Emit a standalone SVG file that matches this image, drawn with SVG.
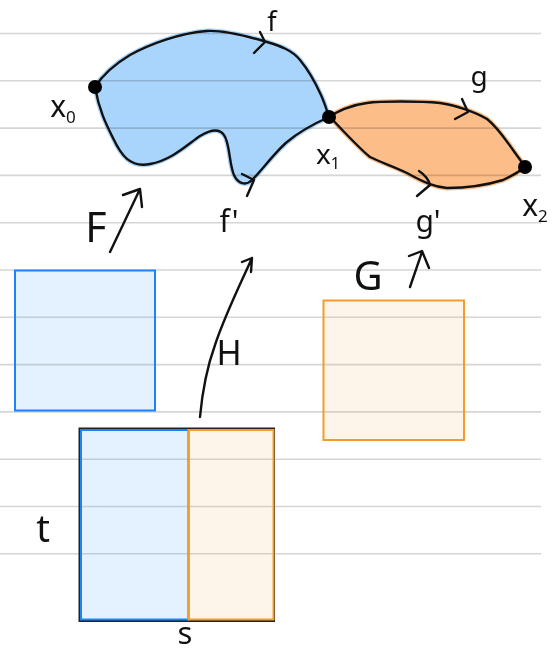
<svg xmlns="http://www.w3.org/2000/svg" width="557" height="656" viewBox="0 0 557 656">
<style>
.rule{stroke:#d6d6d6;stroke-width:1.6}
.ink{fill:none;stroke:#111;stroke-width:2.4;stroke-linecap:round;stroke-linejoin:round}
.lbl{font-family:"Noto Sans","DejaVu Sans",sans-serif;fill:#111;text-anchor:middle}
.dot{fill:#000}
.bfill{fill:#a9d4fb;stroke:#a9d4fb;stroke-width:5;stroke-linejoin:round}
.ofill{fill:#fcbd88;stroke:#fcbd88;stroke-width:5;stroke-linejoin:round}
.brect{fill:#1e88ff;fill-opacity:0.12;stroke:#1a84ff;stroke-width:2}
.orect{fill:#f5a030;fill-opacity:0.1;stroke:#f39c2b;stroke-width:2}
</style>
<rect width="557" height="656" fill="#fff"/>
<g id="rules">
<line class="rule" x1="0" y1="33.5" x2="541" y2="33.5"/>
<line class="rule" x1="0" y1="80.8" x2="541" y2="80.8"/>
<line class="rule" x1="0" y1="128.1" x2="541" y2="128.1"/>
<line class="rule" x1="0" y1="175.4" x2="541" y2="175.4"/>
<line class="rule" x1="0" y1="222.7" x2="541" y2="222.7"/>
<line class="rule" x1="0" y1="270" x2="541" y2="270"/>
<line class="rule" x1="0" y1="317.3" x2="541" y2="317.3"/>
<line class="rule" x1="0" y1="364.6" x2="541" y2="364.6"/>
<line class="rule" x1="0" y1="411.9" x2="541" y2="411.9"/>
<line class="rule" x1="0" y1="459.2" x2="541" y2="459.2"/>
<line class="rule" x1="0" y1="506.5" x2="541" y2="506.5"/>
<line class="rule" x1="0" y1="553.8" x2="541" y2="553.8"/>
</g>
<g id="blob-f" style="mix-blend-mode:multiply">
<path class="bfill" d="M95,87 C102,76 115,64 130,55 C150,44 180,33 207,31 C225,30 250,37 267,42 C280,46 292,50 300,60 C310,72 316,84 321,95 C325,104 327,111 329,117 C320,121 300,131 287,142 C276,151 262,170 252,180 C246,186 238,184 234,175 C229,164 230,143 224,135 C219,128 210,130 200,136 C188,144 172,160 150,164 C130,168 121,155 113,138 C106,124 99,110 95,87 Z"/>
</g>
<g id="blob-g" style="mix-blend-mode:multiply">
<path class="ofill" d="M330,117 C336,112 350,105 367,103 C380,101 420,101 440,103 C455,105 475,112 487,119 C496,126 506,140 513,150 C518,157 522,162 525,167 C520,171 512,176 503,180 C490,184 470,188 447,188 C435,187 425,183 407,173 C395,167 380,162 370,157 C360,149 345,133 330,117 Z"/>
</g>
<g id="path-f">
<path class="ink" d="M95,87 C102,76 115,64 130,55 C150,44 180,33 207,31 C225,30 250,37 267,42 C280,46 292,50 300,60 C310,72 316,84 321,95 C325,104 327,111 329,117"/>
<path class="ink" d="M260,32 L265,42 L254,53"/>
<text class="lbl" x="272" y="31" font-size="27">f</text>
</g>
<g id="path-f-prime">
<path class="ink" d="M329,117 C320,121 300,131 287,142 C276,151 262,170 252,180 C246,186 238,184 234,175 C229,164 230,143 224,135 C219,128 210,130 200,136 C188,144 172,160 150,164 C130,168 121,155 113,138 C106,124 99,110 95,87"/>
<path class="ink" d="M242,174 L254,180 L247,196"/>
<text class="lbl" x="229" y="232" font-size="30">f'</text>
</g>
<g id="path-g">
<path class="ink" d="M330,117 C336,112 350,105 367,103 C380,101 420,101 440,103 C455,105 475,112 487,119 C496,126 506,140 513,150 C518,157 522,162 525,167"/>
<path class="ink" d="M462,99 L468,112 L455,119"/>
<text class="lbl" x="479" y="86" font-size="28">g</text>
</g>
<g id="path-g-prime">
<path class="ink" d="M525,167 C520,171 512,176 503,180 C490,184 470,188 447,188 C435,187 425,183 407,173 C395,167 380,162 370,157 C360,149 345,133 330,117"/>
<path class="ink" d="M419,171 Q428,177 430,185 L417,196"/>
<text class="lbl" x="428" y="232" font-size="30">g'</text>
</g>
<g id="x0">
<circle class="dot" cx="95" cy="87" r="7"/>
<text class="lbl" x="63" y="117" font-size="30">x<tspan font-size="17" dy="6">0</tspan></text>
</g>
<g id="x1">
<circle class="dot" cx="329" cy="117" r="7"/>
<text class="lbl" x="328" y="164" font-size="28">x<tspan font-size="16" dy="5">1</tspan></text>
</g>
<g id="x2">
<circle class="dot" cx="525" cy="167" r="7"/>
<text class="lbl" x="535" y="216" font-size="30">x<tspan font-size="17" dy="6">2</tspan></text>
</g>
<g id="square-f">
<rect class="brect" x="15" y="270.5" width="140" height="140"/>
</g>
<g id="square-g">
<rect class="orect" x="323.5" y="300.5" width="140.5" height="139.5"/>
</g>
<g id="square-h">
<rect x="79.5" y="428.5" width="194.5" height="192.5" fill="none" stroke="#222" stroke-width="2"/>
<rect class="brect" x="81" y="430" width="107.5" height="189.5"/>
<rect class="orect" x="188.5" y="430" width="85" height="189.5"/>
<text class="lbl" x="43" y="542" font-size="38">t</text>
<text class="lbl" x="185" y="644" font-size="31">s</text>
</g>
<g id="connectors">
<path class="ink" d="M110,252 L140,189 M123,195 L140,189 L142,207"/>
<text class="lbl" x="96" y="242" font-size="41">F</text>
<path class="ink" d="M410,287 L422,252 M409,256 L422,251 L429,268"/>
<text class="lbl" x="368" y="290" font-size="40">G</text>
<path class="ink" d="M200,417 C202,395 206,370 215,345 C225,315 240,285 252,258 M242,262 L252,258 L251,272"/>
<text class="lbl" x="229" y="365" font-size="34">H</text>
</g>
</svg>
